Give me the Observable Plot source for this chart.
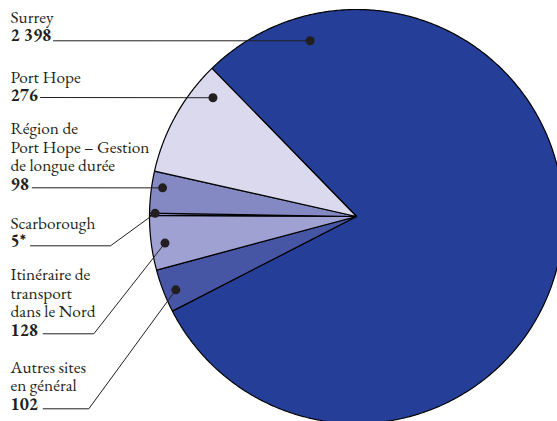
<!DOCTYPE html>
<html>
<head>
<meta charset="utf-8">
<script src="https://cdn.jsdelivr.net/npm/d3@7"></script>
<script src="https://cdn.jsdelivr.net/npm/@observablehq/plot@0.6"></script>
<style>
  html, body { margin: 0; padding: 0; background: #fff; }
  svg { display: block; }
</style>
</head>
<body>
<div id="chart"></div>
<script>
// ---- data (clockwise order from Surrey) ----
const categories = ["Surrey", "Autres sites\nen général", "Itinéraire de\ntransport\ndans le Nord", "Scarborough", "Région de\nPort Hope – Gestion\nde longue durée", "Port Hope"];
const valueLabels = ["2 398", "102", "128", "5*", "98", "276"];
const values = [2398, 102, 128, 5, 98, 276];
const sliceColors = ["#253e97", "#4656a4", "#9ea1d1", "#8589c3", "#8589c3", "#dad9ee"];

// ---- layout (pixel-space via identity-like linear scales) ----
const W = 557, H = 421;
const cx = 356, cy = 216, R = 207;
const startDeg = -44.3;
// callout layout: dot angle (deg clockwise from top), dot radius fraction,
// number baseline y, leader y, leader start x, elbow x (null = straight)
const callouts = [
  {i: 0, ang: 345.2, rf: 0.878, base: 40.7, ly: 40.3, lx: 53, ex: null},
  {i: 1, ang: 247.9, rf: 0.942, base: 409.3, ly: 408.3, lx: 42.7, ex: 88.3},
  {i: 2, ang: 262.1, rf: 0.934, base: 335, ly: 333.3, lx: 42.7, ex: 93.3},
  {i: 3, ang: 270.9, rf: 0.973, base: 246.5, ly: 245.3, lx: 30, ex: 110},
  {i: 4, ang: 278.4, rf: 0.947, base: 189.3, ly: 187.3, lx: 31.7, ex: null},
  {i: 5, ang: 309.6, rf: 0.90, base: 100.5, ly: 97, lx: 40, ex: null}
];

const rad = d => d * Math.PI / 180;
const pie = d3.pie().sort(null).value(d => d.value).startAngle(rad(startDeg)).endAngle(rad(startDeg + 360));
const rows = categories.map((c, i) => ({name: c, value: values[i]}));
const arcs = pie(rows);

// slice polygons
const poly = [];
arcs.forEach(a => {
  const name = a.data.name;
  poly.push({name, x: cx, y: cy});
  const n = Math.max(2, Math.ceil((a.endAngle - a.startAngle) / rad(0.5)));
  for (let k = 0; k <= n; k++) {
    const t = a.startAngle + (a.endAngle - a.startAngle) * k / n;
    poly.push({name, x: cx + R * Math.sin(t), y: cy - R * Math.cos(t)});
  }
});

// dots and leaders
const dots = callouts.map(c => ({
  name: categories[c.i],
  x: cx + c.rf * R * Math.sin(rad(c.ang)),
  y: cy - c.rf * R * Math.cos(rad(c.ang))
}));
const leaders = [];
callouts.forEach((c, k) => {
  const name = categories[c.i];
  leaders.push({name, x: c.lx, y: c.ly});
  if (c.ex != null) leaders.push({name, x: c.ex, y: c.ly});
  leaders.push({name, x: dots[k].x, y: dots[k].y});
});
const LH = 18.5, FS = 17.3;
const FONT = "'EB Garamond', 'Liberation Serif', serif";
const names = callouts.map(c => ({text: categories[c.i], x: 10, y: c.base - LH}));
const nums = callouts.map(c => ({text: valueLabels[c.i], x: 10, y: c.base}));

const chart = Plot.plot({
  width: W, height: H, margin: 0,
  x: {domain: [0, W], range: [0, W], axis: null},
  y: {domain: [0, H], range: [0, H], axis: null},
  color: {domain: categories, range: sliceColors},
  style: "font-family: 'EB Garamond', serif; background: #fff;",
  marks: [
    Plot.line(poly, {x: "x", y: "y", z: "name", fill: "name", stroke: "#000", strokeWidth: 1.2, strokeLinejoin: "miter", curve: "linear-closed"}),
    Plot.line(leaders, {x: "x", y: "y", z: "name", stroke: "#231f20", strokeWidth: 1}),
    Plot.dot(dots, {x: "x", y: "y", r: 4.5, fill: "#231f20", stroke: "none"}),
    Plot.text(names, {x: "x", y: "y", text: "text", textAnchor: "start", lineAnchor: "bottom", lineHeight: LH / FS, fontSize: FS, fontFamily: FONT, fill: "#231f20"}),
    Plot.text(nums, {x: "x", y: "y", text: "text", textAnchor: "start", lineAnchor: "bottom", fontSize: FS, fontFamily: FONT, fontWeight: "bold", fill: "#231f20"})
  ]
});
document.getElementById("chart").appendChild(chart);
</script>
</body>
</html>
